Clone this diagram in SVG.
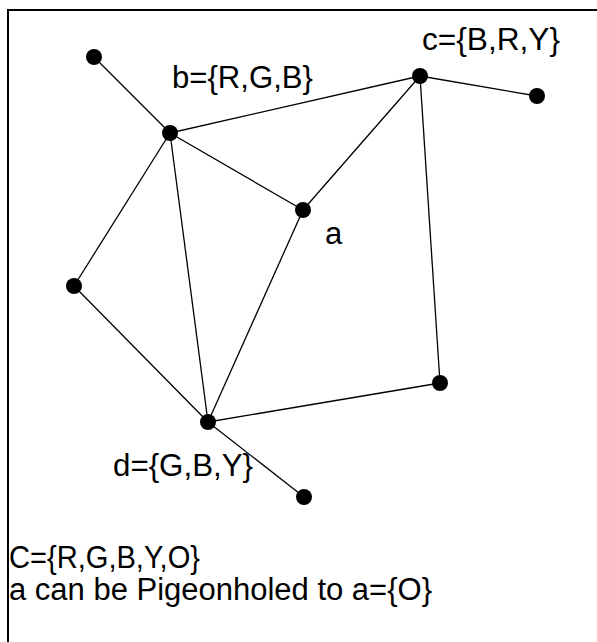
<svg xmlns="http://www.w3.org/2000/svg" width="597" height="642" viewBox="0 0 597 642">
<style>
.e{stroke:#000;stroke-width:1.3;fill:none}
.n{fill:#000}
.t{font-family:"Liberation Sans",Arial,sans-serif;font-size:31px;fill:#000}
.frame{stroke:#000;stroke-width:2;fill:none}
</style>
<rect width="597" height="642" fill="#fff"/>
<path class="frame" d="M8,642 V10 H597"/>
<g id="connectors">
<line class="e" x1="94" y1="57" x2="170" y2="133"/>
<line class="e" x1="170" y1="133" x2="420" y2="76"/>
<line class="e" x1="170" y1="133" x2="303" y2="210"/>
<line class="e" x1="170" y1="133" x2="74" y2="286"/>
<line class="e" x1="170" y1="133" x2="208" y2="422"/>
<line class="e" x1="420" y1="76" x2="537" y2="96"/>
<line class="e" x1="420" y1="76" x2="303" y2="210"/>
<line class="e" x1="420" y1="76" x2="440" y2="383"/>
<line class="e" x1="303" y1="210" x2="208" y2="422"/>
<line class="e" x1="74" y1="286" x2="208" y2="422"/>
<line class="e" x1="208" y1="422" x2="440" y2="383"/>
<line class="e" x1="208" y1="422" x2="304" y2="497"/>
</g>
<g id="leaf-b"><circle class="n" cx="94" cy="57" r="8"/></g>
<g id="b"><circle class="n" cx="170" cy="133" r="8"/><text class="t" x="172" y="88" textLength="141" lengthAdjust="spacingAndGlyphs">b={R,G,B}</text></g>
<g id="c"><circle class="n" cx="420" cy="76" r="8"/><text class="t" x="422" y="50" textLength="138" lengthAdjust="spacingAndGlyphs">c={B,R,Y}</text></g>
<g id="leaf-c"><circle class="n" cx="537" cy="96" r="8"/></g>
<g id="a"><circle class="n" cx="303" cy="210" r="8"/><text class="t" x="325" y="244">a</text></g>
<g id="left"><circle class="n" cx="74" cy="286" r="8"/></g>
<g id="right"><circle class="n" cx="440" cy="383" r="8"/></g>
<g id="d"><circle class="n" cx="208" cy="422" r="8"/><text class="t" x="113" y="476" textLength="140" lengthAdjust="spacingAndGlyphs">d={G,B,Y}</text></g>
<g id="leaf-d"><circle class="n" cx="304" cy="497" r="8"/></g>
<g id="caption">
<text class="t" x="9" y="568" textLength="191" lengthAdjust="spacingAndGlyphs">C={R,G,B,Y,O}</text>
<text class="t" x="9" y="600" textLength="423" lengthAdjust="spacingAndGlyphs">a can be Pigeonholed to a={O}</text>
</g>
</svg>
